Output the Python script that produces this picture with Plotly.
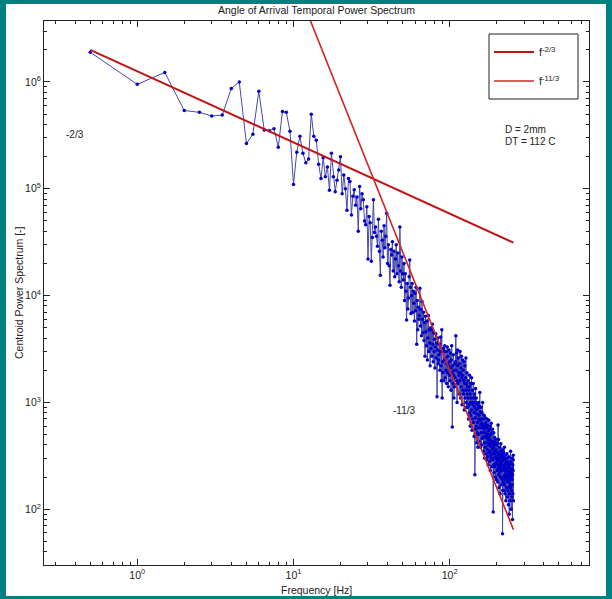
import plotly.graph_objects as go

# ---------------- data ----------------
freq_step = 0.5          # Hz, spectral bin spacing
n_bins = 512
freq = [freq_step * k for k in range(1, n_bins + 1)]

psd_0_15 = [1.9e6, 9.5e5, 1.23e6, 5.4e5, 5.2e5, 4.8e5, 4.9e5, 8.7e5, 1.0e6, 2.65e5,
            3.25e5, 8.2e5, 3.55e5, 3.5e5, 3.65e5, 2.45e5, 5.3e5, 5.2e5, 3.45e5, 1.1e5,
            2.2e5, 3.1e5, 2.15e5, 1.75e5, 1.9e5, 5.0e5, 3.1e5, 2.85e5, 1.7e5, 1.25e5,
            1.95e5]
psd_16_30 = [1.3e5, 1.6e5, 9.7e4, 2.15e5, 1.3e5, 9.4e4, 1.2e5, 1.5e5, 2.0e5, 9.0e4,
             1.35e5, 1.0e5, 6.3e4, 1.25e5, 1.17e5, 5.7e4, 8.5e4, 9.8e4, 7.0e4, 8.4e4,
             4.0e4, 1.05e5, 6.5e4, 9.0e4, 7.9e4, 5.0e4, 4.6e4, 6.8e4, 2.2e4]
psd_30_50 = [5.5e4, 4.8e4, 2.1e4, 3.5e4, 7.9e4, 3.9e4, 4.4e4, 3.6e4, 2.9e4, 5.2e4,
             2.6e4, 1.55e4, 4.0e4, 3.3e4, 2.3e4, 4.5e4, 2.8e4, 3.6e4, 5.9e4, 2.0e4,
             3.0e4, 1.9e4, 1.25e4, 2.7e4, 2.4e4, 3.2e4, 1.7e4, 2.6e4, 1.5e4, 2.2e4,
             3.0e4, 1.6e4, 2.5e4, 1.9e4, 1.35e4, 4.4e4, 1.7e4, 1.2e4, 2.3e4, 1.6e4]
psd_50_70 = [1.4e4, 2.0e4, 9.0e3, 1.6e4, 1.1e4, 5.9e3, 1.3e4, 7.5e3, 9.5e3, 1.5e4,
             2.15e4, 1.2e4, 6.8e3, 1.0e4, 1.3e4, 7.0e3, 1.1e4, 8.5e3, 5.8e3, 1.05e4,
             7.2e3, 1.2e4, 3.5e3, 9.0e3, 4.8e3, 7.8e3, 6.0e3, 6.5e3, 1.17e4, 5.2e3,
             7.4e3, 4.2e3, 8.8e3, 6.0e3, 4.5e3, 7.0e3, 3.8e3, 5.6e3, 2.7e3, 6.4e3]
psd_70_100 = [4.6e3, 3.4e3, 5.8e3, 2.5e3, 4.0e3, 6.5e3, 3.0e3, 4.8e3, 3.6e3, 2.2e3,
              5.0e3, 3.2e3, 4.8e3, 2.7e3, 5.4e3, 3.5e3, 2.4e3, 4.5e3, 3.0e3, 3.9e3,
              2.1e3, 3.3e3, 4.4e3, 2.6e3, 3.6e3, 1.13e3, 3.1e3, 4.0e3, 2.3e3, 2.5e3,
              2.8e3, 3.5e3, 2.0e3, 3.0e3, 4.1e3, 2.2e3, 1.6e3, 4.8e3, 1.1e3, 2.4e3,
              1.9e3, 3.2e3, 3.0e3, 1.6e3, 2.5e3, 3.4e3, 1.7e3, 2.6e3, 2.0e3, 3.0e3,
              1.5e3, 2.3e3, 3.3e3, 1.9e3, 2.7e3, 1.4e3, 2.2e3, 3.1e3, 1.8e3, 2.4e3]
psd_100_130 = [1.6e3, 2.9e3, 2.1e3, 1.3e3, 2.5e3, 3.4e3, 1.9e3, 590, 2.2e3, 1.5e3,
               2.8e3, 1.8e3, 1.1e3, 2.0e3, 1.4e3, 2.3e3, 1.7e3, 2.4e3, 4.2e3, 2.0e3,
               2.9e3, 1.6e3, 1.0e3, 2.2e3, 3.1e3, 1.5e3, 2.6e3, 1.9e3, 1.8e3, 1.2e3,
               2.3e3, 1.6e3, 3.0e3, 1.9e3, 1.1e3, 2.1e3, 1.4e3, 2.7e3, 1.7e3, 950,
               1.8e3, 2.5e3, 1.3e3, 2.0e3, 1.2e3, 1.6e3, 2.4e3, 850, 1.5e3, 2.2e3,
               1.1e3, 1.7e3, 1.3e3, 2.6e3, 1.0e3, 900, 1.5e3, 1.9e3, 1.2e3, 1.4e3]
psd_130_160 = [900, 1.6e3, 1.1e3, 700, 1.3e3, 950, 1.4e3, 1.8e3, 800, 1.2e3,
               600, 1.0e3, 1.5e3, 750, 1.1e3, 1.7e3, 850, 550, 1.0e3, 1.3e3,
               700, 950, 1.5e3, 650, 1.1e3, 800, 480, 900, 1.2e3, 210,
               1.0e3, 720, 1.35e3, 560, 850, 1.1e3, 600, 420, 780, 950,
               520, 650, 380, 880, 500, 1.0e3, 700, 430, 760, 580,
               920, 1.24e3, 680, 820, 380, 620, 900, 520, 700, 400]
psd_160_190 = [640, 800, 460, 580, 1.0e3, 520, 700, 600, 480, 350,
               600, 760, 420, 560, 300, 620, 480, 720, 380, 520,
               650, 330, 470, 580, 290, 420, 700, 360, 500, 610,
               310, 450, 260, 540, 400, 680, 340, 470, 560, 280,
               420, 350, 600, 230, 390, 500, 320, 440, 640, 300,
               380, 520, 250, 410, 330, 560, 290, 430, 360, 94]
psd_190_220 = [260, 380, 520, 300, 220, 400, 330, 470, 250, 350,
               420, 200, 310, 450, 270, 360, 190, 300, 400, 300,
               280, 340, 230, 420, 300, 180, 260, 615, 240, 320,
               450, 210, 290, 160, 330, 250, 380, 220, 300, 140,
               270, 350, 200, 280, 410, 230, 310, 170, 260, 240,
               240, 330, 190, 280, 360, 59, 150, 300, 240, 320]
psd_220_256 = [180, 260, 340, 200, 150, 290, 230, 380, 170, 250,
               210, 320, 140, 240, 300, 190, 270, 120, 220, 210,
               200, 280, 160, 240, 330, 180, 130, 260, 210, 300,
               150, 230, 190, 270, 110, 200, 250, 160, 310, 180,
               90, 220, 260, 140, 200, 280, 170, 230, 120, 210,
               350, 160, 240, 190, 100, 220, 270, 150, 200, 300,
               130, 190, 240, 170, 80, 210, 260, 140, 230, 290,
               320, 120]

psd = (psd_0_15 + psd_16_30 + psd_30_50 + psd_50_70 + psd_70_100 +
       psd_100_130 + psd_130_160 + psd_160_190 + psd_190_220 + psd_220_256)

# reference power-law lines (end points)
fit_freq = [0.5, 256]
fit_a = [2.0e6, 3.13e4]      # f^-2/3
fit_b = [5.5e11, 64.5]       # f^-11/3

x_tick_vals = [1, 10, 100]
x_tick_text = ["10<sup>0</sup>", "10<sup>1</sup>", "10<sup>2</sup>"]
y_tick_vals = [1e2, 1e3, 1e4, 1e5, 1e6]
y_tick_text = ["10<sup>2</sup>", "10<sup>3</sup>", "10<sup>4</sup>", "10<sup>5</sup>", "10<sup>6</sup>"]

# ---------------- figure ----------------
W, H = 612, 599
L, R, T, B = 44, 23, 21, 34
PW, PH = W - L - R, H - T - B

def px(x):
    return (x - L) / PW

def py(y):
    return (H - B - y) / PH

FONT = "Liberation Sans, Arial, sans-serif"
INK = "#222222"

fig = go.Figure()
fig.add_trace(go.Scatter(
    x=freq, y=psd, mode="lines+markers",
    line=dict(color="#4848a8", width=1),
    marker=dict(color="#0000c8", size=3.5),
    showlegend=False, hoverinfo="skip"))
fig.add_trace(go.Scatter(
    x=fit_freq, y=fit_a, mode="lines", name="f<sup>-2/3</sup>",
    line=dict(color="#c01515", width=2), legendgroup="a"))
fig.add_trace(go.Scatter(
    x=fit_freq, y=fit_b, mode="lines", name="f<sup>-11/3</sup>",
    line=dict(color="#d02424", width=1.6), legendgroup="b"))

minor_x = [m * 10 ** d for d in range(-1, 3) for m in range(2, 10)]
minor_y = [m * 10 ** d for d in range(1, 7) for m in range(2, 10)]

axis_common = dict(
    type="log", showgrid=False, zeroline=False, showline=True,
    linecolor=INK, linewidth=1, mirror="ticks", ticks="inside",
    ticklen=6, tickcolor=INK, tickwidth=1,
    tickfont=dict(family=FONT, size=10.5, color=INK),
)
fig.update_xaxes(**axis_common, range=[-0.597, 2.892],
                 tickmode="array", tickvals=x_tick_vals, ticktext=x_tick_text,
                 minor=dict(tickmode="array", tickvals=minor_x, ticks="inside",
                            ticklen=3, tickcolor=INK))
fig.update_yaxes(**axis_common, range=[1.478, 6.571],
                 tickmode="array", tickvals=y_tick_vals, ticktext=y_tick_text,
                 minor=dict(tickmode="array", tickvals=minor_y, ticks="inside",
                            ticklen=3, tickcolor=INK))

annots = [
    dict(text="Angle of Arrival Temporal Power Spectrum", x=0.5, y=py(10),
         xanchor="center", yanchor="middle", size=10.5),
    dict(text="Frequency [Hz]", x=0.5, y=py(590), xanchor="center",
         yanchor="middle", size=10.5),
    dict(text="Centroid Power Spectrum [-]", x=px(19), y=0.5, textangle=-90,
         xanchor="center", yanchor="middle", size=10.5),
    dict(text="-2/3", x=px(75), y=py(134), xanchor="center", yanchor="middle"),
    dict(text="-11/3", x=px(404), y=py(410), xanchor="center", yanchor="middle"),
    dict(text="D = 2mm", x=px(503), y=py(130), xanchor="left", yanchor="middle"),
    dict(text="DT = 112 C", x=px(503), y=py(141), xanchor="left", yanchor="middle"),
]
for a in annots:
    size = a.pop("size", 10)
    fig.add_annotation(xref="paper", yref="paper", showarrow=False,
                       font=dict(family=FONT, color=INK, size=size), **a)

# white inner page inside the teal border
fig.add_shape(type="rect", xref="paper", yref="paper", layer="below",
              x0=px(6), x1=px(606), y0=py(596), y1=py(4),
              fillcolor="white", line=dict(width=0))
# legend frame
fig.add_shape(type="rect", xref="paper", yref="paper", layer="above",
              x0=px(489), x1=px(578), y0=py(99), y1=py(34),
              fillcolor="white", line=dict(color=INK, width=1))

fig.update_layout(
    width=W, height=H, autosize=False,
    margin=dict(l=L, r=R, t=T, b=B),
    paper_bgcolor="#008080", plot_bgcolor="white",
    font=dict(family=FONT, color=INK, size=10),
    legend=dict(x=px(489), y=py(37.5), xanchor="left", yanchor="top",
                bgcolor="rgba(0,0,0,0)", borderwidth=0,
                font=dict(family=FONT, size=11, color=INK),
                itemwidth=40, tracegroupgap=10),
    showlegend=True,
)

fig.write_html(
    "out.html",
    config={"displayModeBar": False},
    post_script="document.body.style.margin='0px';document.body.style.padding='0px';",
)
